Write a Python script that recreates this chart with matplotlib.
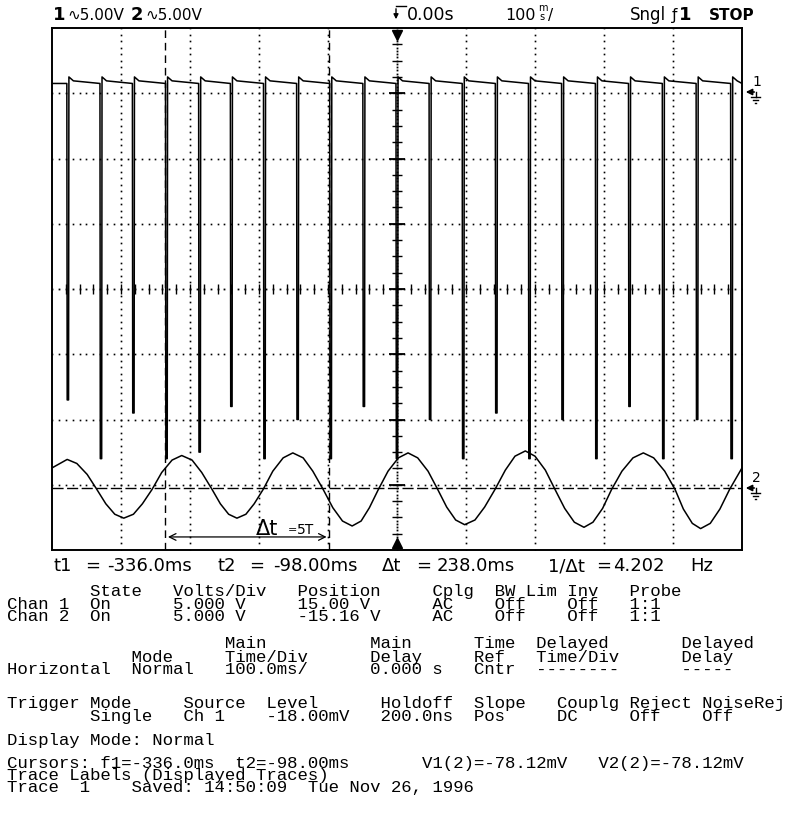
import matplotlib
matplotlib.use('Agg')
import matplotlib.pyplot as plt
from matplotlib.lines import Line2D
import numpy as np

W, H = 809, 813

# scope settings (from the printout)
volts_div = 5.0
ch1_pos = 15.00
ch2_pos = -15.16
t1_cursor = -336.0
t2_cursor = -98.0
v_cursor = -0.07812

# channel 1: pulse train, ms and volts
pulse_t = [-477, -429, -382, -334, -286, -240, -192, -144, -96, -48, 0,
           48, 96, 144, 192, 240, 289, 337, 386, 435, 485]
pulse_low = [-23.5, -28.0, -24.5, -28.0, -27.5, -24.0, -28.0, -25.0, -28.0, -24.0, -28.0,
             -25.0, -28.0, -24.5, -28.0, -25.0, -28.0, -24.0, -28.0, -25.0, -28.0]
level_after = 1.25
level_settle = 0.95
level_before = 0.75

# channel 2: sine-like trace
ch2_t = [-500, -478, -464, -449, -435, -422, -409, -396, -382, -369, -355, -341, -326, -312,
         -297, -283, -268, -256, -244, -232, -219, -207, -194, -180, -165, -151, -136, -122,
         -107, -93, -79, -65, -52, -40, -27, -13, 2, 16, 30, 45, 59, 72, 85, 98, 113, 127,
         142, 157, 171, 186, 200, 215, 229, 243, 257, 271, 284, 298, 311, 326, 342, 357,
         372, 388, 403, 415, 428, 440, 454, 468, 482, 500]
ch2_v = [1.45, 2.1, 1.79, 0.95, -0.2, -1.3, -2.1, -2.4, -2.1, -1.3, -0.2, 1.1, 2.05, 2.4,
         2.05, 1.1, -0.2, -1.3, -2.1, -2.4, -2.1, -1.3, -0.2, 1.2, 2.22, 2.6, 2.22, 1.2,
         -0.2, -1.6, -2.62, -3.0, -2.62, -1.6, -0.2, 1.2, 2.22, 2.6, 2.22, 1.2, -0.2, -1.55,
         -2.54, -2.9, -2.54, -1.55, -0.2, 1.28, 2.35, 2.75, 2.35, 1.28, -0.2, -1.65, -2.71,
         -3.1, -2.71, -1.65, -0.2, 1.2, 2.22, 2.6, 2.22, 1.2, -0.2, -1.7, -2.8, -3.2, -2.8,
         -1.7, -0.2, 1.45]

readout_lines = [
    (596, "        State   Volts/Div   Position     Cplg  BW Lim Inv   Probe"),
    (609, "Chan 1  On      5.000 V     15.00 V      AC    Off    Off   1:1"),
    (621, "Chan 2  On      5.000 V     -15.16 V     AC    Off    Off   1:1"),
    (648, "                     Main          Main      Time  Delayed       Delayed"),
    (662, "            Mode     Time/Div      Delay     Ref   Time/Div      Delay"),
    (674, "Horizontal  Normal   100.0ms/      0.000 s   Cntr  --------      -----"),
    (708, "Trigger Mode     Source  Level      Holdoff  Slope   Couplg Reject NoiseRej"),
    (721, "        Single   Ch 1    -18.00mV   200.0ns  Pos     DC     Off    Off"),
    (745, "Display Mode: Normal"),
    (768, "Cursors: f1=-336.0ms  t2=-98.00ms       V1(2)=-78.12mV   V2(2)=-78.12mV"),
    (780, "Trace Labels (Displayed Traces)"),
    (792, "Trace  1    Saved: 14:50:09  Tue Nov 26, 1996"),
]


def fx(x):
    return x / W


def fy(y):
    return 1 - y / H


def fline(xs, ys, lw=1.0):
    fig.add_artist(Line2D([fx(v) for v in xs], [fy(v) for v in ys],
                          transform=fig.transFigure, color='k', lw=lw))


fig = plt.figure(figsize=(W / 100, H / 100), dpi=100)
ax = fig.add_axes([fx(52), fy(550), 690 / W, 522 / H])
ax.set_xlim(-500, 500)
ax.set_ylim(-4 * volts_div, 4 * volts_div)
ax.set_xticks([])
ax.set_yticks([])
for s in ax.spines.values():
    s.set_linewidth(1.4)

# graticule
dot_x = np.arange(-500, 501, 10)
dot_y = np.arange(-20, 20.01, 0.5)
for g in [-400, -300, -200, -100, 100, 200, 300, 400]:
    ax.plot(np.full(len(dot_y), g), dot_y, ls='none', marker='s', ms=1.2, mew=0, color='k')
for g in [-15, -10, -5, 5, 10, 15]:
    ax.plot(dot_x, np.full(len(dot_x), g), ls='none', marker='s', ms=1.2, mew=0, color='k')
ax.plot(dot_x, np.zeros(len(dot_x)), ls='none', marker='s', ms=1.3, mew=0, color='k')
ax.vlines(np.arange(-480, 481, 20), -0.4, 0.4, color='k', lw=1.0)
cy = np.arange(-20, 20.01, 0.25)
ax.plot(np.zeros(len(cy)), cy, ls='none', marker='s', ms=1.3, mew=0, color='k')
ax.hlines(np.arange(-18.75, 18.8, 1.25), -7, 7, color='k', lw=1.0)
ax.hlines(np.arange(-15, 15.1, 5), -12, 12, color='k', lw=1.3)

# channel 1 trace
tr_t = [-500]
tr_v = [level_before]
for tp, lo in zip(pulse_t, pulse_low):
    tr_t += [tp - 1.5, tp - 1.0, tp + 1.0, tp + 1.5, tp + 8]
    tr_v += [level_before, lo, lo, level_after, level_settle]
tr_t.append(500)
tr_v.append(level_before)
ax.plot(tr_t, np.array(tr_v) + ch1_pos, color='k', lw=1.1)

# channel 2 trace
ax.plot(ch2_t, np.array(ch2_v) + ch2_pos, color='k', lw=1.1)

# cursors
ax.axvline(t1_cursor, color='k', lw=1.0, ls=(0, (5.5, 3.5)))
ax.axvline(t2_cursor, color='k', lw=1.0, ls=(0, (5.5, 3.5)))
ax.axhline(v_cursor + ch2_pos, color='k', lw=1.0, ls=(0, (8, 2.5)))

# trigger markers
ax.plot([0], [19.5], marker='v', ms=7, color='k', clip_on=False)
ax.plot([0], [-19.5], marker='^', ms=7, color='k', clip_on=False)

# hand-drawn delta-t arrow
ay = -19.0
ax.annotate('', xy=(t1_cursor, ay), xytext=(t2_cursor, ay),
            arrowprops=dict(arrowstyle='<->', lw=0.9, color='k', mutation_scale=12))
fig.text(fx(256), fy(535), 'Δt', fontsize=15, va='baseline')
fig.text(fx(288), fy(533), '=', fontsize=8, va='baseline')
fig.text(fx(297), fy(534), '5T', fontsize=10, va='baseline')

# header
hdr = dict(fontsize=11, va='baseline', family='DejaVu Sans')
fig.text(fx(53), fy(20), '1', fontsize=13, weight='bold', va='baseline')
fig.text(fx(67), fy(20), '∿5.00V', **hdr)
fig.text(fx(131), fy(20), '2', fontsize=13, weight='bold', va='baseline')
fig.text(fx(145), fy(20), '∿5.00V', **hdr)
fline([396, 406], [6, 6])
ax.annotate('', xy=(396, H - 22), xytext=(396, H - 6), xycoords='figure pixels',
            arrowprops=dict(arrowstyle='-|>', lw=1.0, color='k', mutation_scale=7))
fig.text(fx(407), fy(20), '0.00s', fontsize=12.5, va='baseline')
fig.text(fx(505), fy(20), '100', fontsize=11.5, va='baseline')
fig.text(fx(538), fy(11), 'm', fontsize=7, va='baseline')
fig.text(fx(539), fy(20), 's', fontsize=7, va='baseline')
fig.text(fx(548), fy(20), '/', **hdr)
fig.text(fx(630), fy(20), 'Sngl', fontsize=12, va='baseline')
fig.text(fx(672), fy(20), 'ƒ', **hdr)
fig.text(fx(679), fy(20), '1', fontsize=13, weight='bold', va='baseline')
fig.text(fx(709), fy(20), 'STOP', fontsize=11, weight='bold', va='baseline')

# channel ground markers on the right edge
for gy, lab in [(92, '1'), (488, '2')]:
    ax.annotate('', xy=(743, H - gy), xytext=(757, H - gy), xycoords='figure pixels',
                arrowprops=dict(arrowstyle='-|>', lw=1.2, color='k', mutation_scale=9))
    fline([756, 756], [gy, gy + 5])
    fline([751, 760], [gy + 5, gy + 5])
    fline([753, 758], [gy + 8, gy + 8])
    fline([755, 756], [gy + 11, gy + 11])
    fig.text(fx(752), fy(gy - 6), lab, fontsize=10, va='baseline')

# readout under the screen
ro = dict(fontsize=13, va='baseline', family='DejaVu Sans')
for x, s in [(53, 't1'), (85, '='), (107, '-336.0ms'),
             (217, 't2'), (249, '='), (273, '-98.00ms'),
             (382, 'Δt'), (416, '='), (437, '238.0ms'),
             (548, '1/Δt'), (596, '='), (613, '4.202'), (690, 'Hz')]:
    fig.text(fx(x), fy(571), s, **ro)

# printer listing
for by, line in readout_lines:
    fig.text(fx(7), fy(by), line, family='Liberation Mono', fontsize=12.5, va='baseline')

fig.savefig('out.png', dpi=100, facecolor='white')
